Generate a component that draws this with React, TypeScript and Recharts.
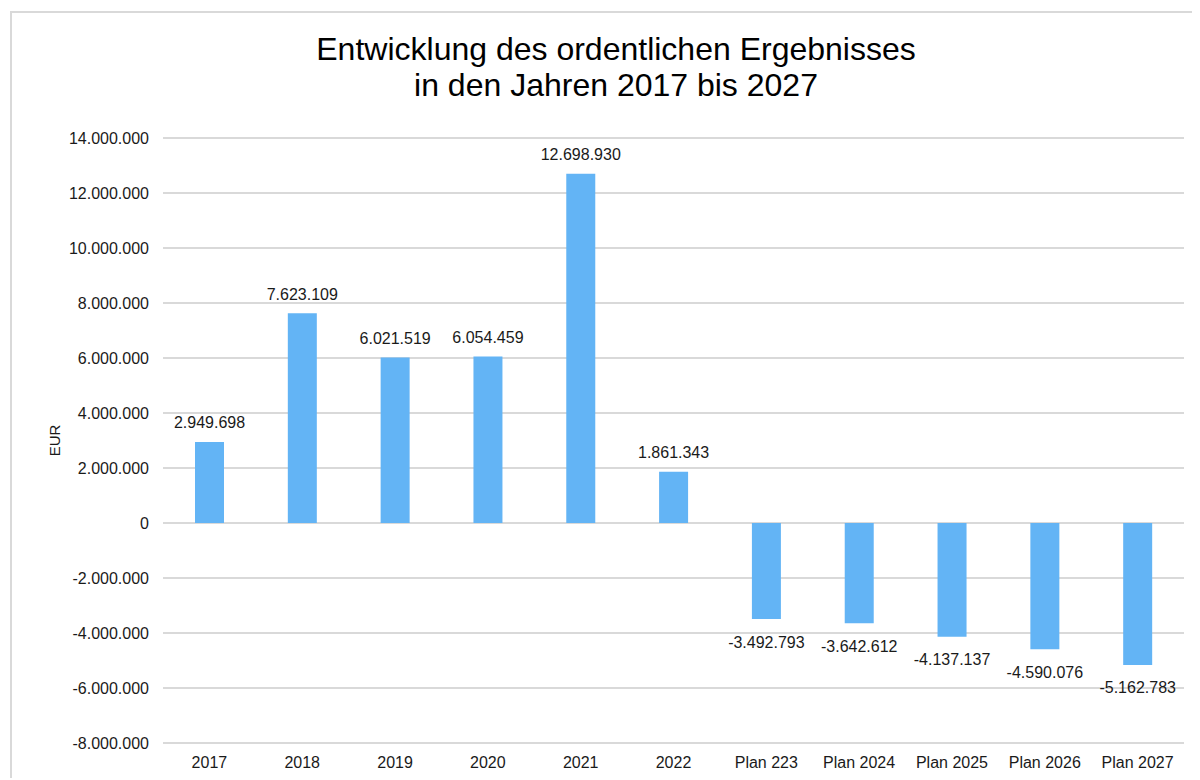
import { Bar, BarChart, CartesianGrid, LabelList, XAxis, YAxis } from "recharts";

const CATEGORIES = [
  "2017",
  "2018",
  "2019",
  "2020",
  "2021",
  "2022",
  "Plan 223",
  "Plan 2024",
  "Plan 2025",
  "Plan 2026",
  "Plan 2027"
];

const RESULTS = [
  2949698, 7623109, 6021519, 6054459, 12698930, 1861343, -3492793, -3642612, -4137137, -4590076,
  -5162783
];

const Y_TICKS = [-8000000, -6000000, -4000000, -2000000, 0, 2000000, 4000000, 6000000, 8000000, 10000000, 12000000, 14000000];

const FONT = '"Liberation Sans", Arial, sans-serif';
const BAR_COLOR = "#63b4f5";
const GRID_COLOR = "#d9d9d9";

const rows = CATEGORIES.map((name, i) => ({ name, value: RESULTS[i] }));

// 1234567 -> "1.234.567"
function formatDe(value: number): string {
  const sign = value < 0 ? "-" : "";
  const digits = String(Math.abs(Math.round(value)));
  return sign + digits.replace(/\B(?=(\d{3})+(?!\d))/g, ".");
}

function ValueLabel(props: any) {
  const { x, y, width, height, value } = props;
  const top = Math.min(y, y + height);
  const bottom = Math.max(y, y + height);
  const cx = x + width / 2;
  const ty = value < 0 ? bottom + 23 : top - 19;
  return (
    <text
      x={cx}
      y={ty}
      textAnchor="middle"
      dominantBaseline="central"
      fontFamily={FONT}
      fontSize={16}
      fill="#1a1a1a"
    >
      {formatDe(value)}
    </text>
  );
}

export default function App() {
  return (
    <div style={{ position: "relative", width: 1190, height: 770, overflow: "hidden", background: "#fff" }}>
      <div
        style={{
          position: "absolute",
          left: 2,
          top: 3,
          width: 1300,
          height: 900,
          border: `2px solid ${GRID_COLOR}`,
          boxSizing: "border-box"
        }}
      />
      <div
        style={{
          position: "absolute",
          left: 0,
          width: 1216,
          top: 23,
          textAlign: "center",
          fontFamily: FONT,
          fontSize: 32,
          lineHeight: "36px",
          color: "#000"
        }}
      >
        Entwicklung des ordentlichen Ergebnisses
        <br />
        in den Jahren 2017 bis 2027
      </div>
      <div style={{ position: "absolute", left: 0, top: 0 }}>
        <BarChart
          width={1190}
          height={770}
          data={rows}
          margin={{ top: 130, right: 14, left: 0, bottom: 0 }}
          barCategoryGap="0%"
        >
          <CartesianGrid stroke={GRID_COLOR} strokeWidth={2} vertical={false} />
          <XAxis
            dataKey="name"
            height={35}
            tickLine={false}
            axisLine={false}
            tickSize={0}
            tickMargin={14}
            interval={0}
            tick={{ fontFamily: FONT, fontSize: 16, fill: "#1a1a1a" }}
          />
          <YAxis
            width={155}
            domain={[-8000000, 14000000]}
            ticks={Y_TICKS}
            interval={0}
            tickLine={false}
            axisLine={false}
            tickSize={0}
            tickMargin={14}
            tickFormatter={formatDe}
            tick={{ fontFamily: FONT, fontSize: 16, fill: "#1a1a1a" }}
            label={{
              value: "EUR",
              angle: -90,
              position: "insideLeft",
              offset: 47,
              style: { fontFamily: FONT, fontSize: 15, fill: "#1a1a1a", textAnchor: "middle" }
            }}
          />
          <Bar dataKey="value" fill={BAR_COLOR} barSize={29} isAnimationActive={false}>
            <LabelList dataKey="value" content={ValueLabel} />
          </Bar>
        </BarChart>
      </div>
    </div>
  );
}
